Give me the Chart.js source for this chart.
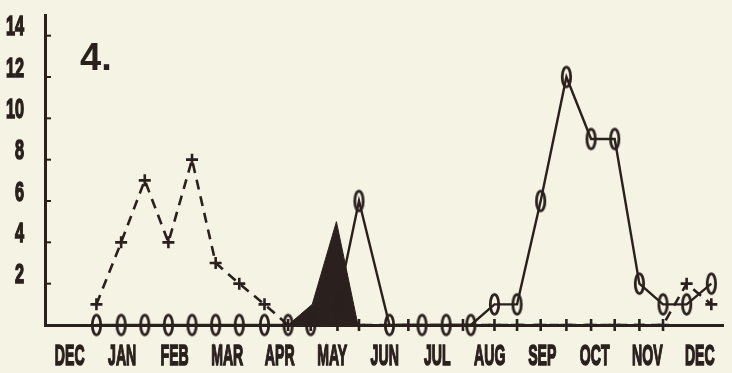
<!DOCTYPE html>
<html>
<head>
<meta charset="utf-8">
<script src="https://cdn.jsdelivr.net/npm/chart.js@4.4.1/dist/chart.umd.min.js"></script>
<style>
  html, body { margin: 0; padding: 0; background: #f5f3e4; }
  #wrap { width: 732px; height: 373px; }
</style>
</head>
<body>
<div id="wrap"><canvas id="chart"></canvas></div>
<script>
const INK = '#2a201d';

const MONTHS = ['DEC', 'JAN', 'FEB', 'MAR', 'APR', 'MAY', 'JUN', 'JUL', 'AUG', 'SEP', 'OCT', 'NOV', 'DEC'];
const Y_TICKS = [2, 4, 6, 8, 10, 12, 14];

// sampling dates, in months counted from the first DEC
const SOLID_X = [0.51, 0.98, 1.43, 1.88, 2.33, 2.78, 3.23, 3.71, 4.16, 4.59, 5.10, 5.51, 6.09,
  6.71, 7.17, 7.64, 8.09, 8.52, 8.97, 9.46, 9.93, 10.38, 10.85, 11.30, 11.75, 12.22];
const SOLID_Y = [0, 0, 0, 0, 0, 0, 0, 0, 0, 0, 1, 6, 0,
  0, 0, 0, 1, 1, 6, 12, 9, 9, 2, 1, 1, 2];

const DASHED_X = [0.51, 0.98, 1.43, 1.88, 2.33, 2.78, 3.23, 3.71, 4.16, 4.59, 5.10, 5.51,
  6.45, 7.49, 8.09, 8.52, 8.97, 9.46, 9.93, 10.38, 10.85, 11.30, 11.75, 12.22];
const DASHED_Y = [1, 4, 7, 4, 8, 3, 2, 1, 0, 0, 0, 0,
  0, 0, 0, 0, 0, 0, 0, 0, 0, 0, 2, 1];

const SHADED_X = [4.16, 4.62, 5.08, 5.49];
const SHADED_Y = [0, 1, 5, 0];

const pairs = (xs, ys) => xs.map((x, i) => ({ x: x, y: ys[i] }));

// tall "0" marker of the plotter
function ovalMarker() {
  const c = document.createElement('canvas');
  c.width = 13;
  c.height = 25;
  const g = c.getContext('2d');
  g.strokeStyle = INK;
  g.lineWidth = 2.8;
  g.beginPath();
  g.ellipse(6.5, 12.5, 4.2, 9.8, 0, 0, Math.PI * 2);
  g.stroke();
  return c;
}

function squeezed(ctx, text, x, y, sx, align) {
  ctx.save();
  ctx.translate(x, y);
  ctx.scale(sx, 1);
  ctx.textAlign = align;
  ctx.fillText(text, 0, 0);
  ctx.lineWidth = 1.6;
  ctx.strokeText(text, 0, 0);
  ctx.restore();
}

const plotterText = {
  id: 'plotterText',
  afterDraw(chart) {
    const { ctx, chartArea } = chart;
    const x = chart.scales.x;
    const y = chart.scales.y;
    ctx.save();
    ctx.fillStyle = INK;
    ctx.strokeStyle = INK;
    ctx.textBaseline = 'middle';

    ctx.font = 'bold 30px "Liberation Sans", sans-serif';
    MONTHS.forEach((m, i) => squeezed(ctx, m, x.getPixelForValue(i), 357, 0.47, 'center'));

    ctx.font = 'bold 28px "Liberation Sans", sans-serif';
    Y_TICKS.forEach(v => {
      const py = y.getPixelForValue(v);
      squeezed(ctx, String(v), 24, py - 8, 0.58, 'right');
      ctx.lineWidth = 2;
      ctx.beginPath();
      ctx.moveTo(chartArea.left, py);
      ctx.lineTo(chartArea.left + 6, py);
      ctx.stroke();
    });

    ctx.textBaseline = 'alphabetic';
    ctx.textAlign = 'left';
    ctx.font = 'bold 38px "Liberation Sans", sans-serif';
    ctx.fillText('4.', 80, 70);
    ctx.restore();
  }
};

new Chart(document.getElementById('chart'), {
  type: 'line',
  data: {
    datasets: [
      {
        data: pairs(SOLID_X, SOLID_Y),
        borderColor: INK,
        borderWidth: 2.4,
        pointStyle: ovalMarker(),
        pointRadius: 6,
        clip: false
      },
      {
        data: pairs(DASHED_X, DASHED_Y),
        borderColor: INK,
        borderWidth: 2.6,
        borderDash: [10, 7],
        pointStyle: 'cross',
        pointRadius: 6,
        pointBorderWidth: 2.6,
        pointBorderColor: INK,
        clip: false
      },
      {
        data: pairs(SHADED_X, SHADED_Y),
        borderColor: INK,
        borderWidth: 1,
        backgroundColor: INK,
        fill: 'origin',
        pointRadius: 0
      }
    ]
  },
  options: {
    responsive: true,
    maintainAspectRatio: false,
    animation: false,
    layout: { padding: { top: 15, right: 0, left: 0, bottom: 0 } },
    plugins: {
      legend: { display: false },
      tooltip: { enabled: false }
    },
    elements: { line: { tension: 0 } },
    scales: {
      x: {
        type: 'linear',
        min: -0.47,
        max: 12.45,
        grid: { display: false },
        border: { color: INK, width: 3 },
        ticks: { display: false },
        afterBuildTicks(s) { s.ticks = MONTHS.map((_, i) => ({ value: i })); },
        afterFit(s) { s.height = 48; }
      },
      y: {
        min: 0,
        max: 15,
        grid: { display: false },
        border: { color: INK, width: 3 },
        ticks: { display: false },
        afterBuildTicks(s) { s.ticks = Y_TICKS.map(v => ({ value: v })); },
        afterFit(s) { s.width = 45; }
      }
    }
  },
  plugins: [plotterText]
});
</script>
</body>
</html>
